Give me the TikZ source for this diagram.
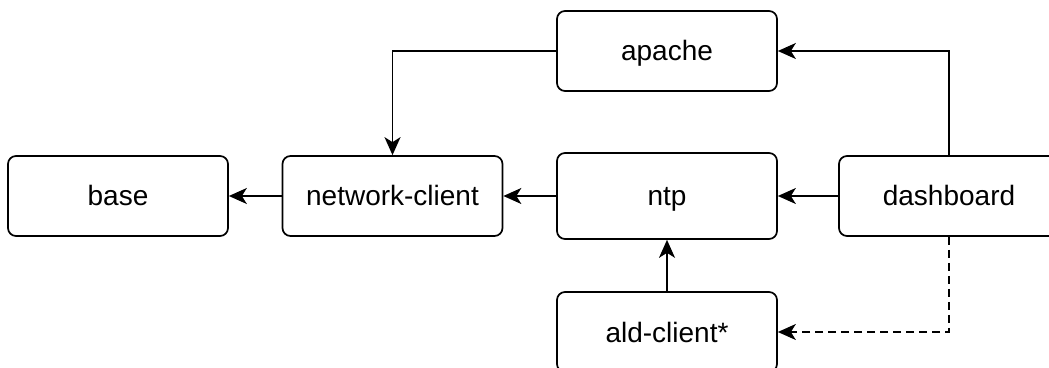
\documentclass[tikz,border=0pt]{standalone}
\usepackage{fontspec}
\setmainfont{Liberation Sans}
\usetikzlibrary{arrows.meta}
\tikzset{
  box/.style={draw, line width=1.7pt, rounded corners=8pt, minimum width=220pt,
    minimum height=80pt, inner sep=0pt, text height=20pt, text depth=0pt,
    font=\fontsize{28}{32}\selectfont},
  link/.style={line width=1.7pt, -{Stealth[length=18pt,width=16pt,inset=5pt]}}
}
\begin{document}
\begin{tikzpicture}[x=1pt,y=1pt]
\clip (0,0) rectangle (1049,367);
\node [box] (base) at (118,171) {base};
\node [box] (net) at (392.5,171) {network-client};
\node [box, minimum height=86pt] (ntp) at (667,171) {ntp};
\node [box] (dash) at (949,171) {dashboard};
\node [box] (apache) at (667,316) {apache};
\node [box] (ald) at (667,35) {ald-client*};
\draw[link] (net) -- (base);
\draw[link] (ntp) -- (net);
\draw[link] (dash) -- (ntp);
\draw[link] (ald) -- (ntp);
\draw[link] (dash) |- (apache);
\draw[link] (apache) -| (net);
%\draw[link] (dash) -- (ald);
\draw[link, dash pattern=on 8pt off 5pt] (dash) |- (ald);
\end{tikzpicture}
\end{document}
